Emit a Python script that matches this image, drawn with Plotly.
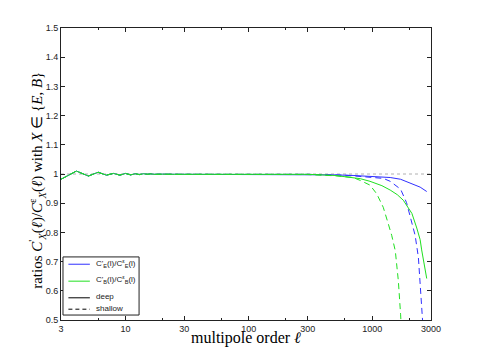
import plotly.graph_objects as go

# shared low-multipole part (all four ratios overlap here)
ell_low = [3, 4, 5, 6, 7, 8, 9, 10, 11, 12, 13, 14, 15, 16, 17, 18, 20, 25, 30, 40, 50, 70, 100, 150, 200]
ratio_low = [0.982, 1.010, 0.993, 1.006, 0.996, 1.002, 0.996, 1.002, 0.997, 1.001, 0.998, 1.001, 0.999,
             1.0005, 0.999, 1.0, 0.9995, 0.999, 0.999, 0.999, 0.999, 0.999, 0.999, 0.999, 0.999]

# high-multipole tails
ell_e_deep = [300, 500, 700, 900, 1160, 1400, 1700, 1900, 2200, 2450, 2770]
ratio_e_deep = [0.999, 0.997, 0.995, 0.993, 0.991, 0.988, 0.982, 0.974, 0.965, 0.955, 0.940]

ell_b_deep = [300, 500, 660, 800, 960, 1200, 1400, 1600, 1790, 2100, 2300, 2450, 2520, 2650, 2770]
ratio_b_deep = [0.999, 0.995, 0.990, 0.984, 0.975, 0.960, 0.945, 0.929, 0.910, 0.865, 0.815, 0.775,
                0.740, 0.690, 0.642]

ell_e_shallow = [300, 600, 1000, 1230, 1400, 1540, 1700, 1900, 2090, 2230, 2370, 2450, 2550, 2580]
ratio_e_shallow = [0.999, 0.996, 0.990, 0.985, 0.975, 0.962, 0.948, 0.902, 0.838, 0.790, 0.715, 0.634,
                   0.520, 0.480]

ell_b_shallow = [300, 500, 700, 800, 960, 1090, 1230, 1350, 1440, 1540, 1630, 1700, 1720]
ratio_b_shallow = [0.998, 0.994, 0.988, 0.978, 0.962, 0.932, 0.886, 0.830, 0.790, 0.737, 0.635, 0.520, 0.480]

ell_ref = [3, 3000]
ratio_ref = [1.0, 1.0]

x_ticks = [3, 10, 30, 100, 300, 1000, 3000]
x_minor = [6, 20, 60, 200, 600, 2000]

legend_labels = [
    "C'<sub>E</sub>(l)/C<sup>ε</sup><sub>E</sub>(l)",
    "C'<sub>B</sub>(l)/C<sup>ε</sup><sub>B</sub>(l)",
    "deep",
    "shallow",
]

BLUE = "#3030ff"
GREEN = "#20e020"
DASH = "6px,4px"
SANS = "Liberation Sans, Arial, sans-serif"
SERIF = "Liberation Serif, Times New Roman, serif"

fig = go.Figure()

fig.add_trace(go.Scatter(x=ell_ref, y=ratio_ref, mode="lines",
                         line={"color": "#b0b0b0", "width": 1, "dash": "dot"}))
fig.add_trace(go.Scatter(x=ell_low + ell_e_shallow, y=ratio_low + ratio_e_shallow, mode="lines",
                         line={"color": BLUE, "width": 1, "dash": DASH}))
fig.add_trace(go.Scatter(x=ell_low + ell_e_deep, y=ratio_low + ratio_e_deep, mode="lines",
                         line={"color": BLUE, "width": 1}))
fig.add_trace(go.Scatter(x=ell_low + ell_b_shallow, y=ratio_low + ratio_b_shallow, mode="lines",
                         line={"color": GREEN, "width": 1, "dash": DASH}))
fig.add_trace(go.Scatter(x=ell_low + ell_b_deep, y=ratio_low + ratio_b_deep, mode="lines",
                         line={"color": GREEN, "width": 1}))

# hand-drawn legend box (plotly's own legend rows are too tall for this one)
leg_y = [0.191, 0.133, 0.076, 0.037]
leg_style = [(BLUE, "solid"), (GREEN, "solid"), ("black", "solid"), ("black", "4px,3px")]
fig.add_shape(type="rect", xref="paper", yref="paper", x0=0.0054, x1=0.211, y0=0.017, y1=0.216,
              line={"color": "#222", "width": 1}, fillcolor="white", layer="above")
for y, (col, dash), label in zip(leg_y, leg_style, legend_labels):
    fig.add_shape(type="line", xref="paper", yref="paper", x0=0.020, x1=0.078, y0=y, y1=y,
                  line={"color": col, "width": 1, "dash": dash}, layer="above")
    fig.add_annotation(xref="paper", yref="paper", x=0.088, y=y + 0.004, text=label, showarrow=False,
                       xanchor="left", yanchor="middle",
                       font={"family": SANS, "size": 8, "color": "#222"})

# axis titles
fig.add_annotation(xref="paper", yref="paper", x=0.5, y=-0.062, text="multipole order <i>ℓ</i>",
                   showarrow=False, xanchor="center", yanchor="middle",
                   font={"family": SERIF, "size": 16, "color": "black"})
fig.add_annotation(xref="paper", yref="paper", x=-0.065, y=0.48, textangle=-90, showarrow=False,
                   text="ratios <i>C</i><sup>'</sup><sub><i>X</i></sub>(<i>ℓ</i>)/<i>C</i><sup>ε</sup>"
                        "<sub><i>X</i></sub>(<i>ℓ</i>) with <i>X</i> ∈ {<i>E</i>, <i>B</i>}",
                   xanchor="center", yanchor="middle",
                   font={"family": SERIF, "size": 15, "color": "black"})

axis_common = dict(
    showgrid=False, zeroline=False, showline=True, linecolor="#222", linewidth=1,
    mirror="ticks", ticks="inside", ticklen=4, tickcolor="#222",
    tickfont={"family": SANS, "size": 9, "color": "#222"},
)

fig.update_xaxes(
    type="log", range=[0.4771, 3.4771], tickmode="array", tickvals=x_ticks,
    ticktext=[str(v) for v in x_ticks],
    minor={"tickvals": x_minor, "ticks": "inside", "ticklen": 2, "tickcolor": "#222"},
    **axis_common,
)
fig.update_yaxes(range=[0.5, 1.5], tick0=0.5, dtick=0.1, **axis_common)

# page body has an 8px margin, so the figure is sized/offset to land on the reference frame
fig.update_layout(
    width=469, height=353,
    margin={"l": 53, "r": 46, "t": 20, "b": 41},
    paper_bgcolor="white", plot_bgcolor="white",
    showlegend=False,
)

fig.write_html("out.html")
